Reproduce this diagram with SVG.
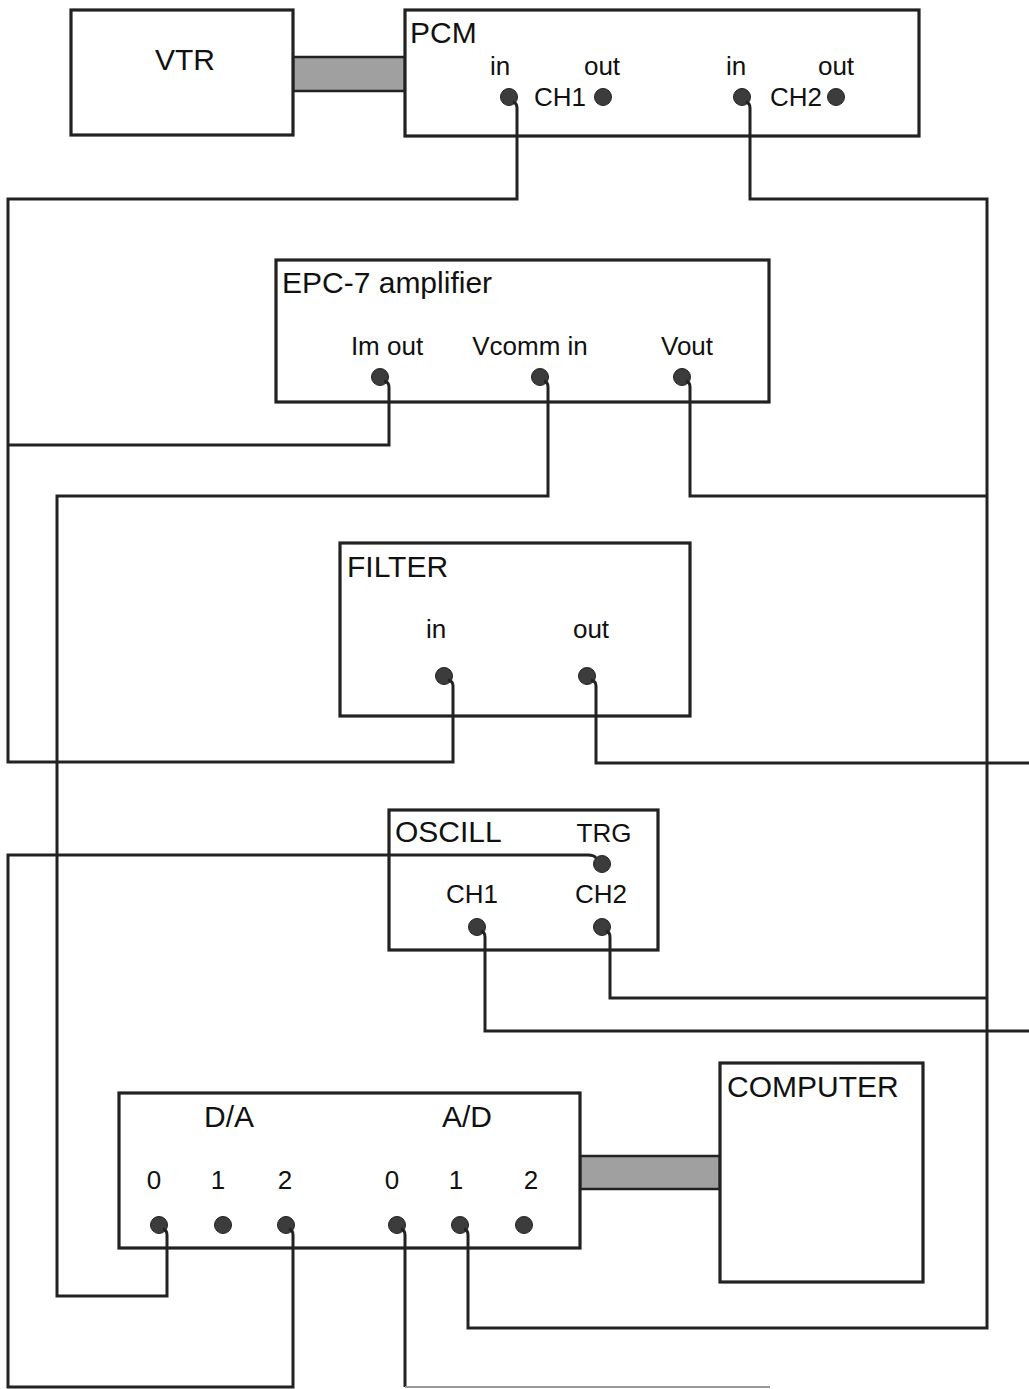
<svg xmlns="http://www.w3.org/2000/svg" width="1029" height="1389" viewBox="0 0 1029 1389">
<style>
.box{fill:#fff;stroke:#222;stroke-width:3.2}
.bus{fill:#a0a0a0;stroke:#222;stroke-width:2.5}
.w{fill:none;stroke:#222;stroke-width:3;stroke-linejoin:miter}
.wf{fill:none;stroke:#999;stroke-width:2}
.dot{fill:#3c3c3c;stroke:#222;stroke-width:1}
.t{font-family:"Liberation Sans",Arial,sans-serif;font-size:30px;fill:#111}
.l{font-family:"Liberation Sans",Arial,sans-serif;font-size:26px;fill:#111}
.c{text-anchor:middle}
</style>
<rect width="1029" height="1389" fill="#fff"/>
<g id="bus-vtr-pcm"><rect class="bus" x="293" y="57" width="112" height="34"/></g>
<g id="bus-adda-computer"><rect class="bus" x="580" y="1156" width="140" height="33"/></g>
<g id="vtr">
<rect class="box" x="71" y="10" width="222" height="125"/>
<text class="t c" x="185" y="70">VTR</text>
</g>
<g id="pcm">
<rect class="box" x="405" y="10" width="514" height="126"/>
<text class="t" x="410" y="43">PCM</text>
<text class="l c" x="500" y="75">in</text>
<text class="l c" x="602" y="75">out</text>
<text class="l c" x="736" y="75">in</text>
<text class="l c" x="836" y="75">out</text>
<text class="l" x="534" y="106">CH1</text>
<text class="l" x="770" y="106">CH2</text>
<circle class="dot" cx="509" cy="97" r="8.5"/>
<circle class="dot" cx="603" cy="97" r="8.5"/>
<circle class="dot" cx="742" cy="97" r="8.5"/>
<circle class="dot" cx="836" cy="97" r="8.5"/>
</g>
<g id="epc7">
<rect class="box" x="276" y="260" width="493" height="142"/>
<text class="t" x="282" y="293">EPC-7 amplifier</text>
<text class="l c" x="387" y="355">Im out</text>
<text class="l c" x="530" y="355">Vcomm in</text>
<text class="l c" x="687" y="355">Vout</text>
<circle class="dot" cx="380" cy="377" r="8.5"/>
<circle class="dot" cx="540" cy="377" r="8.5"/>
<circle class="dot" cx="682" cy="377" r="8.5"/>
</g>
<g id="filter">
<rect class="box" x="340" y="543" width="350" height="173"/>
<text class="t" x="347" y="577">FILTER</text>
<text class="l c" x="436" y="638">in</text>
<text class="l c" x="591" y="638">out</text>
<circle class="dot" cx="444" cy="676" r="8.5"/>
<circle class="dot" cx="587" cy="676" r="8.5"/>
</g>
<g id="oscill">
<rect class="box" x="389" y="810" width="269" height="140"/>
<text class="t" x="395" y="842">OSCILL</text>
<text class="l c" x="604" y="842">TRG</text>
<text class="l c" x="472" y="903">CH1</text>
<text class="l c" x="601" y="903">CH2</text>
<circle class="dot" cx="602" cy="864" r="8.5"/>
<circle class="dot" cx="477" cy="927" r="8.5"/>
<circle class="dot" cx="602" cy="927" r="8.5"/>
</g>
<g id="da-ad">
<rect class="box" x="119" y="1093" width="461" height="155"/>
<text class="t c" x="229" y="1127">D/A</text>
<text class="t c" x="467" y="1127">A/D</text>
<text class="l c" x="154" y="1189">0</text>
<text class="l c" x="218" y="1189">1</text>
<text class="l c" x="285" y="1189">2</text>
<text class="l c" x="392" y="1189">0</text>
<text class="l c" x="456" y="1189">1</text>
<text class="l c" x="531" y="1189">2</text>
<circle class="dot" cx="159" cy="1225" r="8.5"/>
<circle class="dot" cx="223" cy="1225" r="8.5"/>
<circle class="dot" cx="286" cy="1225" r="8.5"/>
<circle class="dot" cx="397" cy="1225" r="8.5"/>
<circle class="dot" cx="460" cy="1225" r="8.5"/>
<circle class="dot" cx="524" cy="1225" r="8.5"/>
</g>
<g id="computer">
<rect class="box" x="720" y="1063" width="203" height="219"/>
<text class="t" x="727" y="1097">COMPUTER</text>
</g>
<g id="connectors">
<path class="w" d="M513 102 Q517 103 517 108 V199 H8 V762 H453 V686 Q453 681 448 680"/>
<path class="w" d="M384 381 Q389 382 389 387 V445 H8"/>
<path class="w" d="M746 102 Q750 103 750 108 V199 H987 V1328 H468 V1235 Q468 1230 464 1229"/>
<path class="w" d="M686 381 Q690 382 690 387 V496 H987"/>
<path class="w" d="M606 931 Q610 932 610 937 V998 H987"/>
<path class="w" d="M544 381 Q548 382 548 387 V496 H57 V1296 H167 V1235 Q167 1230 163 1229"/>
<path class="w" d="M591 680 Q596 681 596 686 V763 H1029"/>
<path class="w" d="M481 931 Q485 932 485 937 V1031 H1029"/>
<path class="w" d="M596 858 Q594 855 588 855 H8 V1387 H293 V1235 Q293 1230 289 1229"/>
<path class="w" d="M401 1229 Q405 1230 405 1235 V1387"/>
<path class="wf" d="M405 1387 H770"/>
</g>
</svg>
